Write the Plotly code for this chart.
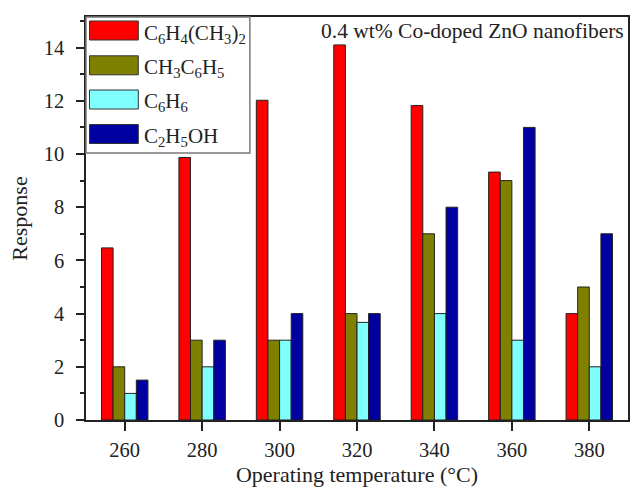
import plotly.graph_objects as go

temperatures = [260, 280, 300, 320, 340, 360, 380]
series_names = ["C<sub>6</sub>H<sub>4</sub>(CH<sub>3</sub>)<sub>2</sub>",
                "CH<sub>3</sub>C<sub>6</sub>H<sub>5</sub>",
                "C<sub>6</sub>H<sub>6</sub>",
                "C<sub>2</sub>H<sub>5</sub>OH"]
xylene = [6.47, 9.87, 12.02, 14.1, 11.82, 9.32, 4.0]
toluene = [2.0, 3.0, 3.0, 4.0, 7.0, 9.0, 5.0]
benzene = [1.0, 2.0, 3.0, 3.67, 4.0, 3.0, 2.0]
ethanol = [1.5, 3.0, 4.0, 4.0, 8.0, 11.0, 7.0]
series_values = [xylene, toluene, benzene, ethanol]
colors = ["#FF0000", "#808000", "#80FFFF", "#0000A0"]
y_ticks = [0, 2, 4, 6, 8, 10, 12, 14]

FONT = "Liberation Serif, Times New Roman, serif"

W, H = 635, 491
L, R, T, B = 86, 5, 17, 71
pw, ph = W - L - R, H - T - B

def px(x):
    return (x - L) / pw

def py(y):
    return (H - B - y) / ph

fig = go.Figure()
for name, vals, col in zip(series_names, series_values, colors):
    fig.add_trace(go.Bar(x=temperatures, y=vals, name=name,
                         marker=dict(color=col, line=dict(color="#222222", width=1)),
                         showlegend=False))

shapes = []
annotations = []
# legend box
shapes.append(dict(type="rect", xref="paper", yref="paper",
                   x0=0, x1=px(250.5), y0=py(153), y1=1,
                   line=dict(color="#7a7a7a", width=1.5), fillcolor="white", layer="above"))
centers = [30.5, 65.3, 99.5, 134]
for name, col, cy in zip(series_names, colors, centers):
    shapes.append(dict(type="rect", xref="paper", yref="paper",
                       x0=px(89.5), x1=px(138.5), y0=py(cy + 9.5), y1=py(cy - 9.5),
                       line=dict(color="#333333", width=1), fillcolor=col, layer="above"))
    annotations.append(dict(x=px(142), y=py(cy + 3), xref="paper", yref="paper",
                            text=name, showarrow=False, xanchor="left", yanchor="middle",
                            font=dict(family=FONT, size=21, color="#222222")))

annotations.append(dict(x=px(628), y=py(31), xref="paper", yref="paper",
                        text="0.4 wt% Co-doped ZnO nanofibers", showarrow=False,
                        xanchor="right", yanchor="middle",
                        font=dict(family=FONT, size=21.5, color="#222222")))

fig.update_layout(
    width=W, height=H,
    margin=dict(l=L, r=R, t=T, b=B, pad=0),
    paper_bgcolor="white", plot_bgcolor="white",
    barmode="group", bargap=0.4, bargroupgap=0,
    font=dict(family=FONT, size=20, color="#222222"),
    shapes=shapes, annotations=annotations,
)
fig.update_xaxes(range=[250, 390], tickvals=temperatures, ticks="outside", ticklen=9,
                 tickwidth=1.5, tickcolor="#222222", ticklabelstandoff=2,
                 showline=True, linecolor="#222222", linewidth=1.5, mirror=True,
                 showgrid=False, zeroline=False,
                 title=dict(text="Operating temperature (°C)", standoff=6,
                            font=dict(family=FONT, size=22)),
                 tickfont=dict(family=FONT, size=20.5))
fig.update_yaxes(range=[0, 15.15], tickvals=y_ticks, ticks="outside", ticklen=8,
                 tickwidth=1.5, tickcolor="#222222", ticklabelstandoff=8,
                 minor=dict(dtick=1, tick0=1, ticks="outside", ticklen=4, tickcolor="#222222", tickwidth=1.5),
                 showline=True, linecolor="#222222", linewidth=1.5, mirror=True,
                 showgrid=False, zeroline=False,
                 title=dict(text="Response", standoff=10, font=dict(family=FONT, size=22)),
                 tickfont=dict(family=FONT, size=20.5))

fig.write_html("out.html")
